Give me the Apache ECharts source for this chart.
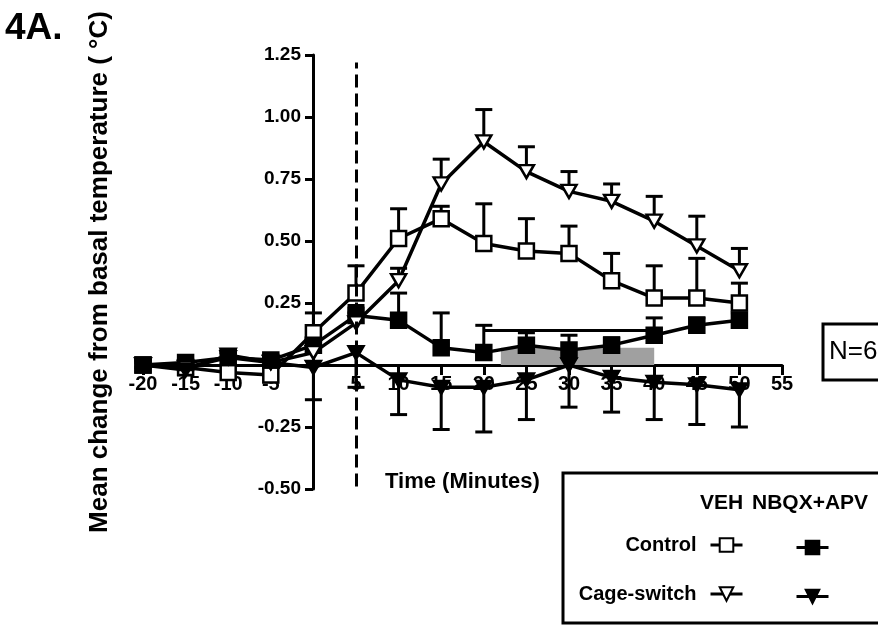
<!DOCTYPE html>
<html>
<head>
<meta charset="utf-8">
<script src="https://cdn.jsdelivr.net/npm/echarts@6/dist/echarts.min.js"></script>
<style>
  html, body { margin: 0; padding: 0; background: #fff; }
  #chart { width: 878px; height: 626px; }
</style>
</head>
<body>
<div id="chart"></div>
<script>
// time points (minutes)
const times = [-20, -15, -10, -5, 0, 5, 10, 15, 20, 25, 30, 35, 40, 45, 50];

// VEH / Control (open squares)
const vehControl = [0.00, -0.01, -0.03, -0.04, 0.13, 0.29, 0.51, 0.59, 0.49, 0.46, 0.45, 0.34, 0.27, 0.27, 0.25];
const vehControlErr = [0.02, 0.02, 0.03, 0.03, 0.08, 0.11, 0.12, 0.05, 0.16, 0.13, 0.11, 0.11, 0.13, 0.16, 0.08];

// NBQX+APV / Control (filled squares)
const nbqxControl = [0.00, 0.01, 0.03, 0.02, 0.08, 0.20, 0.18, 0.07, 0.05, 0.08, 0.06, 0.08, 0.12, 0.16, 0.18];
const nbqxControlErr = [0.01, 0.01, 0.02, 0.02, 0.03, 0.04, 0.11, 0.14, 0.11, 0.05, 0.06, 0.03, 0.07, 0.03, 0.03];

// VEH / Cage-switch (open down triangles)
const vehCage = [0.00, -0.01, 0.03, 0.01, 0.05, 0.17, 0.34, 0.73, 0.90, 0.78, 0.70, 0.66, 0.58, 0.48, 0.38];
const vehCageErr = [0.02, 0.02, 0.02, 0.02, 0.03, 0.04, 0.05, 0.10, 0.13, 0.10, 0.08, 0.07, 0.10, 0.12, 0.09];

// NBQX+APV / Cage-switch (filled down triangles), error drawn downward
const nbqxCage = [0.00, -0.02, 0.04, 0.01, -0.01, 0.05, -0.06, -0.09, -0.09, -0.06, 0.00, -0.05, -0.07, -0.08, -0.10];
const nbqxCageErr = [0.01, 0.02, 0.02, 0.02, 0.13, 0.14, 0.14, 0.17, 0.18, 0.16, 0.17, 0.14, 0.15, 0.16, 0.15];

// annotations
const injectX = 5;
const injectRange = [-0.49, 1.22];
const shadeX = [22, 40];
const shadeY = [0, 0.07];
const barX = [20, 40];
const barY = 0.14;

const FONT = '"Liberation Sans", Arial, sans-serif';

function errSeries(vals, errs, dir) {
  return {
    type: 'custom',
    z: 1,
    silent: true,
    data: times.map((t, i) => [t, vals[i], errs[i]]),
    renderItem: function (params, api) {
      const x = api.value(0), y = api.value(1), e = api.value(2);
      const p0 = api.coord([x, y]);
      const p1 = api.coord([x, y + dir * e]);
      const style = { stroke: '#000', lineWidth: 3 };
      return {
        type: 'group',
        children: [
          { type: 'line', shape: { x1: p0[0], y1: p0[1], x2: p1[0], y2: p1[1] }, style: style },
          { type: 'line', shape: { x1: p1[0] - 8.5, y1: p1[1], x2: p1[0] + 8.5, y2: p1[1] }, style: style }
        ]
      };
    }
  };
}

function lineSeries(name, vals, symbol, filled, size, rotate) {
  return {
    name: name,
    type: 'line',
    z: 3,
    data: times.map((t, i) => [t, vals[i]]),
    symbol: symbol,
    symbolSize: size,
    symbolRotate: rotate || 0,
    showAllSymbol: true,
    lineStyle: { color: '#000', width: 3.5 },
    itemStyle: { color: filled ? '#000' : '#fff', borderColor: '#000', borderWidth: 2.5, opacity: 1 }
  };
}

const chart = echarts.init(document.getElementById('chart'));

const nbqxCtrlSeries = lineSeries('NBQX Control', nbqxControl, 'rect', true, 15);
nbqxCtrlSeries.markArea = {
  silent: true,
  itemStyle: { color: '#a0a0a0', opacity: 1 },
  data: [[{ coord: [shadeX[0], shadeY[0]] }, { coord: [shadeX[1], shadeY[1]] }]]
};
nbqxCtrlSeries.markLine = {
  silent: true,
  symbol: 'none',
  label: { show: false },
  lineStyle: { color: '#000', width: 3, type: 'solid' },
  data: [[{ coord: [barX[0], barY] }, { coord: [barX[1], barY] }]]
};

const vehCtrlSeries = lineSeries('VEH Control', vehControl, 'rect', false, 15);
vehCtrlSeries.markLine = {
  silent: true,
  symbol: 'none',
  label: { show: false },
  lineStyle: { color: '#000', width: 3, type: [13, 6] },
  data: [[{ coord: [injectX, injectRange[0]] }, { coord: [injectX, injectRange[1]] }]]
};

const legendBase = {
  orient: 'horizontal',
  padding: 0,
  itemWidth: 32,
  itemHeight: 17,
  selectedMode: false,
  lineStyle: { width: 3 },
  textStyle: { fontFamily: FONT, fontWeight: 'bold', fontSize: 20, color: '#000', padding: [0, 9, 0, 0] }
};

const option = {
  animation: false,
  backgroundColor: '#fff',
  grid: { left: 143, right: 96, top: 55, bottom: 137 },
  xAxis: {
    type: 'value',
    min: -20,
    max: 55,
    interval: 5,
    offset: -124,
    splitLine: { show: false },
    axisLine: { onZero: false, lineStyle: { color: '#000', width: 3 } },
    axisTick: { show: true, length: 10, lineStyle: { color: '#000', width: 3 } },
    axisLabel: {
      margin: 9,
      color: '#000',
      fontFamily: FONT,
      fontWeight: 'bold',
      fontSize: 20,
      formatter: v => (v === 0 ? '' : String(v))
    }
  },
  yAxis: {
    type: 'value',
    min: -0.5,
    max: 1.25,
    interval: 0.25,
    offset: -170,
    splitLine: { show: false },
    axisLine: { onZero: false, lineStyle: { color: '#000', width: 3 } },
    axisTick: { show: true, length: 8, lineStyle: { color: '#000', width: 3 } },
    axisLabel: {
      margin: 12,
      color: '#000',
      fontFamily: FONT,
      fontWeight: 'bold',
      fontSize: 19,
      formatter: v => (Math.abs(v) < 1e-9 ? '' : v.toFixed(2))
    }
  },
  legend: [
    Object.assign({}, legendBase, { data: ['VEH Control'], align: 'right', right: 134, top: 535, formatter: () => 'Control' }),
    Object.assign({}, legendBase, { data: ['VEH Cage-switch'], align: 'right', right: 134, top: 584, formatter: () => 'Cage-switch' }),
    Object.assign({}, legendBase, { data: ['NBQX Control'], align: 'right', right: 48, top: 539, formatter: () => '' }),
    Object.assign({}, legendBase, { data: ['NBQX Cage-switch'], align: 'right', right: 48, top: 588, formatter: () => '' })
  ],
  graphic: [
    { type: 'text', left: 5, top: 10, style: { text: '4A.', font: 'bold 37px ' + FONT, fill: '#000' } },
    {
      type: 'text', x: 100, y: 272, rotation: Math.PI / 2,
      style: { text: 'Mean change from basal temperature ( °C)', font: 'bold 26px ' + FONT, fill: '#000', align: 'center', verticalAlign: 'middle' }
    },
    { type: 'text', x: 385, y: 482, style: { text: 'Time (Minutes)', font: 'bold 22px ' + FONT, fill: '#000', verticalAlign: 'middle' } },
    { type: 'rect', shape: { x: 823, y: 324, width: 80, height: 56 }, style: { fill: '#fff', stroke: '#000', lineWidth: 3 } },
    { type: 'text', x: 829, y: 352, style: { text: 'N=6', font: '26px ' + FONT, fill: '#000', verticalAlign: 'middle' } },
    { type: 'rect', z: -1, shape: { x: 563, y: 473, width: 340, height: 150 }, style: { fill: '#fff', stroke: '#000', lineWidth: 3 } },
    { type: 'text', x: 700, y: 503, style: { text: 'VEH', font: 'bold 21px ' + FONT, fill: '#000', verticalAlign: 'middle' } },
    { type: 'text', x: 752, y: 503, style: { text: 'NBQX+APV', font: 'bold 21px ' + FONT, fill: '#000', verticalAlign: 'middle' } }
  ],
  series: [
    errSeries(vehControl, vehControlErr, 1),
    errSeries(nbqxControl, nbqxControlErr, 1),
    errSeries(vehCage, vehCageErr, 1),
    errSeries(nbqxCage, nbqxCageErr, -1),
    vehCtrlSeries,
    nbqxCtrlSeries,
    lineSeries('VEH Cage-switch', vehCage, 'triangle', false, [15, 13], 180),
    lineSeries('NBQX Cage-switch', nbqxCage, 'triangle', true, [15, 13], 180)
  ]
};

chart.setOption(option);
</script>
</body>
</html>
